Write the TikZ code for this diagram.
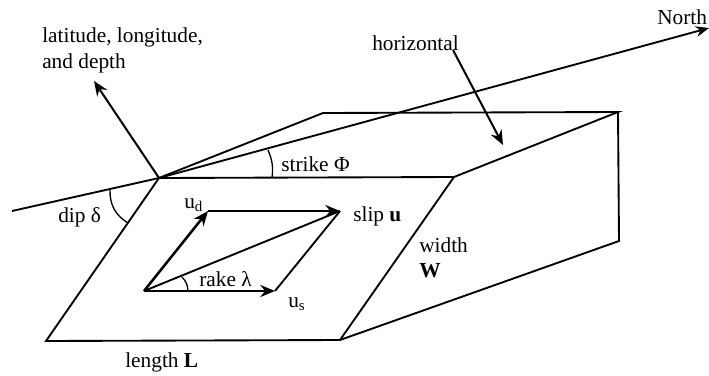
\documentclass[tikz,border=0pt]{standalone}
\usepackage{fontspec}
\setmainfont{Liberation Serif}
\usetikzlibrary{arrows.meta}
\tikzset{
	edge/.style={line width=1.4pt},
	vec/.style={line width=1.9pt,-{Stealth[length=11pt,width=9pt]}},
	lab/.style={anchor=base west,inner sep=0pt,font=\fontsize{16}{18}\selectfont}
}
\begin{document}
\begin{tikzpicture}[x=0.75pt,y=-0.75pt]
		\useasboundingbox (0,0) rectangle (709,375);
		%corners of the block
		\coordinate (fix) at (159,178);
		\coordinate (botleft) at (46,341);
		\coordinate (botright) at (340,340);
		\coordinate (topright) at (454,177);
		\coordinate (backleft) at (323,113);
		\coordinate (backright) at (618,112);
		\coordinate (lowright) at (619,241);
		\coordinate (west) at (12,211);
		\coordinate (north) at (709,28);
		\coordinate (up) at (94,81);
		\coordinate (hstart) at (453,50);
		\coordinate (hend) at (503,145);
		
		%block
		\draw[edge] (fix)--(botleft)--(botright)--(topright)--cycle;
		\draw[edge] (fix)--(backleft)--(backright)--(topright);
		\draw[edge] (backright)--(lowright)--(botright);
		
		%north line and arrows
		\draw[edge,-{Stealth[length=10pt,width=8pt]}] (west)--(fix)--(north);
		\draw[vec,line width=1.5pt] (fix)--(up);
		\draw[vec,line width=1.5pt] (hstart)--(hend);
		
		%slip vectors
		\coordinate (origin) at (144,291);
		\coordinate (ud) at (208,211);
		\coordinate (us) at (275,291);
		\coordinate (slip) at (340,211);
		\draw[vec] (origin)--(ud);
		\draw[vec] (origin)--(us);
		\draw[edge] (origin)--(slip);
		\draw[vec] (ud)--(slip);
		\draw[edge] (us)--(slip);
		
		%angles
		\coordinate (strikea) at (272,178);
		\coordinate (strikeb) at (268,150);
		\coordinate (dipa) at (110,190);
		\coordinate (dipb) at (128,223);
		\coordinate (rakea) at (188,291);
		\coordinate (rakeb) at (182,277);
		\draw[line width=1pt] (strikea) to[bend right=15] (strikeb);
		\draw[line width=1pt] (dipa) to[bend right=30] (dipb);
		\draw[line width=1pt] (rakea) to[bend right=20] (rakeb);
		
		%labels
		\node[lab] (latlon) at (42,42){latitude, longitude,};
		\node[lab] (depth) at (42,68){and depth};
		\node[lab] (horizontal) at (372,50){horizontal};
		\node[lab] (northlab) at (657,24){North};
		\node[lab] (strike) at (281,171){strike Φ};
		\node[lab] (dip) at (58,222){dip δ};
		\node[lab] (udlab) at (184,208){u\textsubscript{d}};
		\node[lab] (sliplab) at (353,221){slip \textbf{u}};
		\node[lab] (rake) at (199,286){rake λ};
		\node[lab] (uslab) at (288,307){u\textsubscript{s}};
		\node[lab] (width) at (419,252){width};
		\node[lab] (widthw) at (419,277){\textbf{W}};
		\node[lab] (length) at (125,367){length \textbf{L}};
\end{tikzpicture}
\end{document}
